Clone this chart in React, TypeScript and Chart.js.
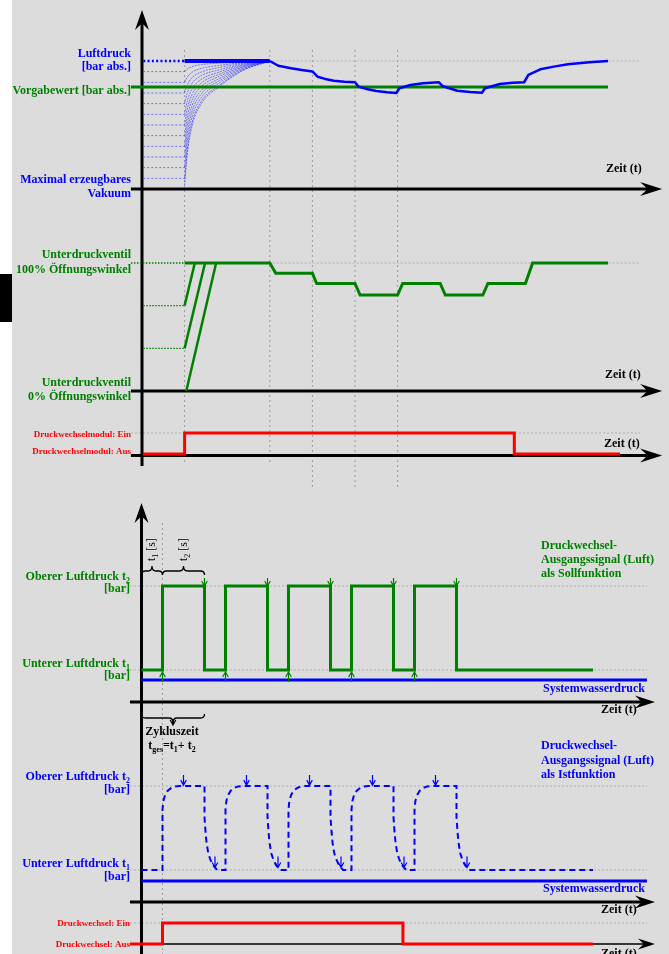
import React, { useEffect, useRef } from "react";
import { Chart, registerables } from "chart.js";

Chart.register(...registerables);

const W = 669;
const H = 954;

// ---------- Panel 1: Luftdruck (normalised: 0 = max. Vakuum, 1 = Luftdruck) ----------
const airLeadTime = [0.03, 1];
const airLeadValue = [1, 1];
const airHoldTime = [1, 3];
const airHoldValue = [1, 1];
const airTime = [3, 3.2, 3.5, 3.75, 4.0, 4.12, 4.3, 4.5, 4.75, 5.0, 5.08, 5.3, 5.5, 5.75, 5.97, 6.04, 6.3, 6.6, 6.97, 7.05, 7.4, 7.7, 7.98, 8.05, 8.4, 8.7, 8.97, 9.07, 9.35, 9.7, 10.0, 10.5, 10.94];
const airValue = [1, 0.963, 0.943, 0.93, 0.918, 0.877, 0.86, 0.846, 0.838, 0.834, 0.8, 0.779, 0.765, 0.755, 0.75, 0.787, 0.812, 0.827, 0.834, 0.805, 0.768, 0.757, 0.752, 0.787, 0.82, 0.83, 0.834, 0.891, 0.935, 0.958, 0.974, 0.99, 1];
const setpointTime = [-0.26, 10.94];
const setpointValue = [0.797, 0.797];
const fanTime = [1, 1.06, 1.17, 1.4, 1.8, 2.35, 3];
const fanCurveValues = [
  [0.917, 0.937, 0.956, 0.972, 0.983, 0.993, 1],
  [0.833, 0.873, 0.911, 0.943, 0.965, 0.987, 1],
  [0.75, 0.81, 0.868, 0.915, 0.948, 0.98, 1],
  [0.667, 0.747, 0.824, 0.887, 0.93, 0.973, 1],
  [0.583, 0.683, 0.779, 0.858, 0.912, 0.967, 1],
  [0.5, 0.62, 0.735, 0.83, 0.895, 0.96, 1],
  [0.417, 0.557, 0.691, 0.802, 0.878, 0.953, 1],
  [0.333, 0.493, 0.646, 0.773, 0.86, 0.947, 1],
  [0.25, 0.43, 0.603, 0.745, 0.843, 0.94, 1],
  [0.167, 0.367, 0.559, 0.717, 0.825, 0.933, 1],
  [0.083, 0.303, 0.514, 0.688, 0.807, 0.927, 1],
  [0.03, 0.263, 0.486, 0.67, 0.796, 0.922, 1],
];
const fanLeadTime = [0.03, 1];
const fanLeadCount = 11;

// ---------- Panel 2: Unterdruckventil (% Öffnungswinkel) ----------
const valveTime = [1, 3, 3.14, 4, 4.1, 5, 5.12, 6, 6.12, 7, 7.12, 8, 8.12, 9, 9.17, 10.94];
const valvePct = [100, 100, 92, 92, 84, 84, 75, 75, 84, 84, 75, 75, 84, 84, 100, 100];
const rampTimes = [[1, 1.24], [1, 1.48], [1.04, 1.74]];
const rampPcts = [[66.7, 100], [33.3, 100], [0, 100]];
const valveLeadTimes = [[-0.26, 1], [0.03, 1], [0.03, 1]];
const valveLeadPcts = [[100, 100], [66.7, 66.7], [33.3, 33.3]];

// ---------- Panel 3: Druckwechselmodul (0 = Aus, 1 = Ein) ----------
const moduleTime = [0.02, 1, 1, 8.74, 8.74, 11.22];
const moduleState = [0, 0, 1, 1, 0, 0];

// ---------- Bottom: Druckwechsel (1 = unterer, 2 = oberer Luftdruck) ----------
const sollTime = [0, 1, 1, 3, 3, 4, 4, 6, 6, 7, 7, 9, 9, 10, 10, 12, 12, 13, 13, 15, 15, 21.5];
const sollLevel = [1, 1, 2, 2, 1, 1, 2, 2, 1, 1, 2, 2, 1, 1, 2, 2, 1, 1, 2, 2, 1, 1];
const systemTime = [0, 24.07];
const systemSoll = [0.88, 0.88];
const systemIst = [0.87, 0.87];
const istTime = [0,
  1, 1, 1.04, 1.12, 1.25, 1.42, 1.6, 1.8, 3, 3, 3.05, 3.1, 3.18, 3.27, 3.4, 3.6,
  4, 4, 4.04, 4.12, 4.25, 4.42, 4.6, 4.8, 6, 6, 6.05, 6.1, 6.18, 6.27, 6.4, 6.6,
  7, 7, 7.04, 7.12, 7.25, 7.42, 7.6, 7.8, 9, 9, 9.05, 9.1, 9.18, 9.27, 9.4, 9.6,
  10, 10, 10.04, 10.12, 10.25, 10.42, 10.6, 10.8, 12, 12, 12.05, 12.1, 12.18, 12.27, 12.4, 12.6,
  13, 13, 13.04, 13.12, 13.25, 13.42, 13.6, 13.8, 15, 15, 15.05, 15.1, 15.18, 15.27, 15.4, 15.6,
  21.5];
const istLevel = [1,
  1, 1.72, 1.82, 1.89, 1.945, 1.978, 1.995, 2, 2, 1.63, 1.45, 1.32, 1.2, 1.13, 1.06, 1,
  1, 1.72, 1.82, 1.89, 1.945, 1.978, 1.995, 2, 2, 1.63, 1.45, 1.32, 1.2, 1.13, 1.06, 1,
  1, 1.72, 1.82, 1.89, 1.945, 1.978, 1.995, 2, 2, 1.63, 1.45, 1.32, 1.2, 1.13, 1.06, 1,
  1, 1.72, 1.82, 1.89, 1.945, 1.978, 1.995, 2, 2, 1.63, 1.45, 1.32, 1.2, 1.13, 1.06, 1,
  1, 1.72, 1.82, 1.89, 1.945, 1.978, 1.995, 2, 2, 1.63, 1.45, 1.32, 1.2, 1.13, 1.06, 1,
  1];
const dwTime = [-0.55, 1, 1, 12.45, 12.45, 21.5];
const dwState = [0, 0, 1, 1, 0, 0];
const sollUpArrowTimes = [1, 4, 7, 10, 13];
const sollDownArrowTimes = [3, 6, 9, 12, 15];
const istTopArrowTimes = [2, 5, 8, 11, 14];
const istBottomArrowTimes = [3.5, 6.5, 9.5, 12.5, 15.5];

// ---------- styles ----------
const BLUE = "#0000ff";
const GREEN = "#008000";
const RED = "#ff0000";
const BLACK = "#000000";
const GRID = "#9c9c9c";
const SERIF = '"Liberation Serif", "DejaVu Serif", serif';

function yRange(v0: number, p0: number, v1: number, p1: number) {
  const k = (v1 - v0) / (p0 - p1);
  return { min: v0 - (H - p0) * k, max: v1 + p1 * k };
}
function xRange(origin: number, unit: number) {
  return { min: -origin / unit, max: (W - origin) / unit };
}

function ds(xs: number[], ys: number[], xAxisID: string, yAxisID: string, color: string, width: number, extra: any = {}) {
  return {
    data: xs.map((x, i) => ({ x, y: ys[i] })),
    xAxisID,
    yAxisID,
    borderColor: color,
    backgroundColor: color,
    borderWidth: width,
    showLine: true,
    pointRadius: 0,
    pointHoverRadius: 0,
    tension: 0,
    fill: false,
    order: 5,
    ...extra,
  };
}

function buildDatasets() {
  const out: any[] = [];
  const fanColor = "rgba(40,40,255,0.6)";
  fanCurveValues.forEach((vals) => {
    out.push(ds(fanTime, vals, "xa", "ya", fanColor, 1, { cubicInterpolationMode: "monotone", borderDash: [2, 1], order: 20 }));
  });
  for (let i = 0; i < fanLeadCount; i++) {
    const lv = fanCurveValues[i][0];
    out.push(ds(fanLeadTime, [lv, lv], "xa", "ya", fanColor, 1, { borderDash: [2, 2], order: 20 }));
  }
  out.push(ds(setpointTime, setpointValue, "xa", "ya", GREEN, 3, { order: 8 }));
  out.push(ds(airLeadTime, airLeadValue, "xa", "ya", BLUE, 2.5, { borderDash: [2, 2.3], order: 2 }));
  out.push(ds(airHoldTime, airHoldValue, "xa", "ya", BLUE, 4, { order: 2 }));
  out.push(ds(airTime, airValue, "xa", "ya", BLUE, 2.5, { order: 2, borderJoinStyle: "round" }));

  valveLeadTimes.forEach((t, i) => out.push(ds(t, valveLeadPcts[i], "xa", "yb", GREEN, 1.3, { borderDash: [1.5, 1.5] })));
  rampTimes.forEach((t, i) => out.push(ds(t, rampPcts[i], "xa", "yb", GREEN, 2.5)));
  out.push(ds(valveTime, valvePct, "xa", "yb", GREEN, 3));

  out.push(ds(moduleTime, moduleState, "xa", "yc", RED, 3));

  out.push(ds(systemTime, systemSoll, "xb", "ys", BLUE, 3));
  out.push(ds(sollTime, sollLevel, "xb", "ys", GREEN, 3, { order: 3 }));
  out.push(ds(systemTime, systemIst, "xb", "yi", BLUE, 3));
  out.push(ds(istTime, istLevel, "xb", "yi", BLUE, 2, { borderDash: [6, 4], order: 3 }));
  out.push(ds(dwTime, dwState, "xb", "yd", RED, 3));
  return out;
}

function hAxis(ctx: any, x0: number, x1: number, y: number, lw: number, len: number, half: number) {
  ctx.strokeStyle = BLACK;
  ctx.fillStyle = BLACK;
  ctx.lineWidth = lw;
  ctx.setLineDash([]);
  ctx.beginPath();
  ctx.moveTo(x0, y);
  ctx.lineTo(x1 - len * 0.6, y);
  ctx.stroke();
  ctx.beginPath();
  ctx.moveTo(x1, y);
  ctx.lineTo(x1 - len, y - half);
  ctx.lineTo(x1 - len * 0.66, y);
  ctx.lineTo(x1 - len, y + half);
  ctx.closePath();
  ctx.fill();
}
function vAxis(ctx: any, x: number, yTip: number, y1: number, lw: number, len: number, half: number) {
  ctx.strokeStyle = BLACK;
  ctx.fillStyle = BLACK;
  ctx.lineWidth = lw;
  ctx.setLineDash([]);
  ctx.beginPath();
  ctx.moveTo(x, y1);
  ctx.lineTo(x, yTip + len * 0.6);
  ctx.stroke();
  ctx.beginPath();
  ctx.moveTo(x, yTip);
  ctx.lineTo(x - half, yTip + len);
  ctx.lineTo(x, yTip + len * 0.66);
  ctx.lineTo(x + half, yTip + len);
  ctx.closePath();
  ctx.fill();
}
function dashLine(ctx: any, x0: number, y0: number, x1: number, y1: number, dash: number[], color = GRID) {
  ctx.strokeStyle = color;
  ctx.lineWidth = 1;
  ctx.setLineDash(dash);
  ctx.beginPath();
  ctx.moveTo(x0, y0);
  ctx.lineTo(x1, y1);
  ctx.stroke();
  ctx.setLineDash([]);
}
function smallArrow(ctx: any, x: number, yFrom: number, yTip: number, color: string) {
  const dir = yTip > yFrom ? 1 : -1;
  ctx.strokeStyle = color;
  ctx.lineWidth = 1.2;
  ctx.setLineDash([]);
  ctx.beginPath();
  ctx.moveTo(x, yFrom);
  ctx.lineTo(x, yTip);
  ctx.moveTo(x - 2.8, yTip - dir * 5);
  ctx.lineTo(x, yTip);
  ctx.lineTo(x + 2.8, yTip - dir * 5);
  ctx.stroke();
}
function brace(ctx: any, x0: number, x1: number, y: number, dir: number, tip: number) {
  // dir = -1 : centre tip points up, ends curl down
  const m = (x0 + x1) / 2;
  const c = 4;
  ctx.strokeStyle = BLACK;
  ctx.lineWidth = 1.3;
  ctx.setLineDash([]);
  ctx.beginPath();
  ctx.moveTo(x0, y - dir * c);
  ctx.quadraticCurveTo(x0, y, x0 + c, y);
  ctx.lineTo(m - c, y);
  ctx.quadraticCurveTo(m, y, m, y + dir * tip);
  ctx.quadraticCurveTo(m, y, m + c, y);
  ctx.lineTo(x1 - c, y);
  ctx.quadraticCurveTo(x1, y, x1, y - dir * c);
  ctx.stroke();
}

type Seg = string | [string];
function rich(ctx: any, segs: Seg[], x: number, y: number, align: string, size: number, color: string, bold = true) {
  const w = bold ? "bold " : "";
  const mainF = `${w}${size}px ${SERIF}`;
  const subF = `${w}${Math.round(size * 0.66)}px ${SERIF}`;
  const parts = segs.map((s) => (typeof s === "string" ? { t: s, sub: false } : { t: s[0], sub: true }));
  let total = 0;
  for (const p of parts) {
    ctx.font = p.sub ? subF : mainF;
    total += ctx.measureText(p.t).width;
  }
  let cx = align === "left" ? x : align === "right" ? x - total : x - total / 2;
  ctx.fillStyle = color;
  ctx.textAlign = "left";
  ctx.textBaseline = "alphabetic";
  for (const p of parts) {
    ctx.font = p.sub ? subF : mainF;
    ctx.fillText(p.t, cx, p.sub ? y + size * 0.25 : y);
    cx += ctx.measureText(p.t).width;
  }
}

const LABELS: [Seg[], number, number, string, number, string][] = [
  [["Luftdruck"], 131, 57, "right", 12, BLUE],
  [["[bar abs.]"], 131, 70, "right", 12, BLUE],
  [["Vorgabewert [bar abs.]"], 131, 94, "right", 12, GREEN],
  [["Maximal erzeugbares"], 131, 183, "right", 12, BLUE],
  [["Vakuum"], 131, 197, "right", 12, BLUE],
  [["Zeit (t)"], 606, 172, "left", 12, BLACK],
  [["Unterdruckventil"], 131, 258, "right", 12, GREEN],
  [["100% Öffnungswinkel"], 131, 273, "right", 12, GREEN],
  [["Unterdruckventil"], 131, 386, "right", 12, GREEN],
  [["0% Öffnungswinkel"], 131, 400, "right", 12, GREEN],
  [["Zeit (t)"], 605, 378, "left", 12, BLACK],
  [["Druckwechselmodul: Ein"], 131, 437, "right", 9, RED],
  [["Druckwechselmodul: Aus"], 131, 454, "right", 9, RED],
  [["Zeit (t)"], 604, 447, "left", 12, BLACK],
  [["Oberer Luftdruck t", ["2"]], 130, 580, "right", 12, GREEN],
  [["[bar]"], 130, 592, "right", 12, GREEN],
  [["Unterer Luftdruck t", ["1"]], 130, 667, "right", 12, GREEN],
  [["[bar]"], 130, 679, "right", 12, GREEN],
  [["Druckwechsel-"], 541, 549, "left", 12, GREEN],
  [["Ausgangssignal (Luft)"], 541, 563, "left", 12, GREEN],
  [["als Sollfunktion"], 541, 577, "left", 12, GREEN],
  [["Systemwasserdruck"], 645, 692, "right", 12, BLUE],
  [["Zeit (t)"], 601, 713, "left", 12, BLACK],
  [["Zykluszeit"], 172, 735, "center", 12, BLACK],
  [["t", ["ges"], "=t", ["1"], "+ t", ["2"]], 172, 749, "center", 12, BLACK],
  [["Oberer Luftdruck t", ["2"]], 130, 780, "right", 12, BLUE],
  [["[bar]"], 130, 793, "right", 12, BLUE],
  [["Unterer Luftdruck t", ["1"]], 130, 867, "right", 12, BLUE],
  [["[bar]"], 130, 880, "right", 12, BLUE],
  [["Druckwechsel-"], 541, 749, "left", 12, BLUE],
  [["Ausgangssignal (Luft)"], 541, 764, "left", 12, BLUE],
  [["als Istfunktion"], 541, 778, "left", 12, BLUE],
  [["Systemwasserdruck"], 645, 892, "right", 12, BLUE],
  [["Zeit (t)"], 601, 913, "left", 12, BLACK],
  [["Druckwechsel: Ein"], 130, 926, "right", 9, RED],
  [["Druckwechsel: Aus"], 130, 947, "right", 9, RED],
  [["Zeit (t)"], 601, 957, "left", 12, BLACK],
];

const diagramPlugin = {
  id: "diagram",
  beforeDraw(chart: any) {
    const ctx = chart.ctx;
    ctx.save();
    ctx.fillStyle = "#ffffff";
    ctx.fillRect(0, 0, W, H);
    ctx.fillStyle = "#dcdcdc";
    ctx.fillRect(12, 0, W - 12, H);
    ctx.fillStyle = "#000000";
    ctx.fillRect(0, 274, 12, 48);
    ctx.restore();
  },
  beforeDatasetsDraw(chart: any) {
    const ctx = chart.ctx;
    const s = chart.scales;
    const xa = (v: number) => s.xa.getPixelForValue(v);
    const xb = (v: number) => s.xb.getPixelForValue(v);
    const ya = (v: number) => s.ya.getPixelForValue(v);
    const yb = (v: number) => s.yb.getPixelForValue(v);
    const yc = (v: number) => s.yc.getPixelForValue(v);
    const ys = (v: number) => s.ys.getPixelForValue(v);
    const yi = (v: number) => s.yi.getPixelForValue(v);
    const yd = (v: number) => s.yd.getPixelForValue(v);
    ctx.save();
    // vertical grid lines (top)
    [1, 3].forEach((t) => dashLine(ctx, xa(t), 50, xa(t), 465, [2, 3]));
    [4, 5, 6].forEach((t) => dashLine(ctx, xa(t), 50, xa(t), 487, [2, 3]));
    dashLine(ctx, xb(1), 523, xb(1), H, [2, 3]);
    // horizontal grid lines
    dashLine(ctx, xa(1), ya(1), xa(11.69), ya(1), [2, 2], "#b0b0b0");
    dashLine(ctx, xa(1), yb(100), xa(11.69), yb(100), [2, 2], "#b0b0b0");
    dashLine(ctx, xa(-0.26), yc(1), xa(11.69), yc(1), [2, 2], "#b0b0b0");
    dashLine(ctx, xb(-0.55), ys(2), xb(24.07), ys(2), [2, 2], "#b0b0b0");
    dashLine(ctx, xb(-0.55), ys(1), xb(24.07), ys(1), [2, 2], "#b0b0b0");
    dashLine(ctx, xb(-0.55), yi(2), xb(24.07), yi(2), [2, 2], "#b0b0b0");
    dashLine(ctx, xb(-0.55), yi(1), xb(24.07), yi(1), [2, 2], "#b0b0b0");
    dashLine(ctx, xb(-0.55), yd(1), xb(24.07), yd(1), [2, 2], "#b0b0b0");
    // axes
    vAxis(ctx, xa(0), 10, 466, 3, 20, 7);
    hAxis(ctx, xa(-0.26), xa(12.21), ya(0), 3, 22, 7);
    hAxis(ctx, xa(-0.26), xa(12.21), yb(0), 3, 22, 7);
    hAxis(ctx, xa(-0.26), xa(12.21), yc(0) + 1.5, 3, 22, 7);
    vAxis(ctx, xb(0), 503, H, 3, 20, 7);
    hAxis(ctx, xb(-0.55), xb(24.45), ys(0.62), 3, 20, 6.5);
    hAxis(ctx, xb(-0.55), xb(24.45), yi(0.62), 3, 20, 6.5);
    hAxis(ctx, xb(-0.55), xb(24.45), yd(0), 1.5, 17, 5.5);
    ctx.restore();
  },
  afterDatasetsDraw(chart: any) {
    const ctx = chart.ctx;
    const s = chart.scales;
    const xb = (v: number) => s.xb.getPixelForValue(v);
    const ys = (v: number) => s.ys.getPixelForValue(v);
    const yi = (v: number) => s.yi.getPixelForValue(v);
    ctx.save();
    sollUpArrowTimes.forEach((t) => smallArrow(ctx, xb(t), ys(0.857), ys(0.976), GREEN));
    sollDownArrowTimes.forEach((t) => smallArrow(ctx, xb(t), ys(2.095), ys(2.0), GREEN));
    istTopArrowTimes.forEach((t) => smallArrow(ctx, xb(t), yi(2.13), yi(2.01), BLUE));
    istBottomArrowTimes.forEach((t) => smallArrow(ctx, xb(t), yi(1.16), yi(1.03), BLUE));
    // braces
    brace(ctx, xb(0), xb(1), 571, -1, 5);
    brace(ctx, xb(1), xb(3), 571, -1, 5);
    brace(ctx, xb(0), xb(3), 718, 1, 5);
    smallArrow(ctx, (xb(0) + xb(3)) / 2, 719, 725, BLACK);
    // rotated time labels
    const rot = (segs: Seg[], x: number, y: number) => {
      ctx.save();
      ctx.translate(x, y);
      ctx.rotate(-Math.PI / 2);
      rich(ctx, segs, 0, 0, "left", 12, BLACK, false);
      ctx.restore();
    };
    rot(["t", ["1"], " [s]"], 155, 561);
    rot(["t", ["2"], " [s]"], 187, 561);
    LABELS.forEach(([segs, x, y, align, size, color]) => rich(ctx, segs, x, y, align, size, color, true));
    ctx.restore();
  },
};

export default function App() {
  const ref = useRef<HTMLCanvasElement | null>(null);
  useEffect(() => {
    document.body.style.margin = "0";
    const canvas = ref.current;
    if (!canvas) return;
    const hidden = { display: false, ticks: { display: false }, grid: { display: false } };
    const chart = new Chart(canvas, {
      type: "scatter",
      data: { datasets: buildDatasets() },
      options: {
        animation: false,
        responsive: false,
        maintainAspectRatio: false,
        devicePixelRatio: 1,
        events: [],
        layout: { padding: 0 },
        plugins: { legend: { display: false }, tooltip: { enabled: false }, title: { display: false } },
        scales: {
          xa: { type: "linear", position: "bottom", ...hidden, ...xRange(142, 42.6) },
          xb: { type: "linear", position: "bottom", ...hidden, ...xRange(141.5, 21) },
          ya: { type: "linear", position: "left", ...hidden, ...yRange(0, 189, 1, 61) },
          yb: { type: "linear", position: "left", ...hidden, ...yRange(0, 391, 100, 263) },
          yc: { type: "linear", position: "left", ...hidden, ...yRange(0, 454, 1, 433) },
          ys: { type: "linear", position: "left", ...hidden, ...yRange(1, 670, 2, 586) },
          yi: { type: "linear", position: "left", ...hidden, ...yRange(1, 870, 2, 786) },
          yd: { type: "linear", position: "left", ...hidden, ...yRange(0, 944, 1, 923) },
        },
      } as any,
      plugins: [diagramPlugin as any],
    });
    return () => chart.destroy();
  }, []);
  return (
    <div style={{ position: "absolute", left: 0, top: 0, width: W, height: H }}>
      <canvas ref={ref} width={W} height={H} style={{ display: "block", width: W, height: H }} />
    </div>
  );
}
